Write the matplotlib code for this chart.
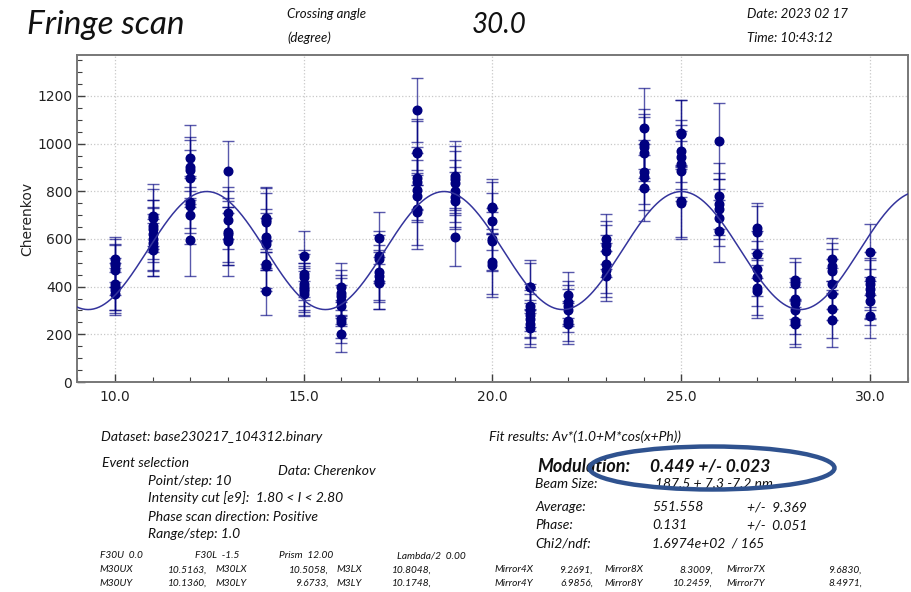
import numpy as np
import matplotlib
matplotlib.use("Agg")
import matplotlib.pyplot as plt
from matplotlib.patches import Ellipse
from matplotlib.ticker import MultipleLocator, FormatStrFormatter

# ---------------- data ----------------
phase_steps = list(range(10, 31))

cherenkov_values = [
    [515, 500, 490, 470, 410, 400, 385, 370],
    [695, 690, 655, 640, 620, 600, 585, 565, 555],
    [940, 900, 890, 855, 755, 740, 700, 595],
    [885, 710, 680, 630, 620, 600, 590],
    [690, 680, 670, 610, 590, 580, 495, 485, 380],
    [530, 455, 440, 410, 400, 390, 380, 370],
    [400, 375, 360, 340, 320, 265, 250, 200],
    [605, 530, 515, 460, 445, 425, 415],
    [1140, 965, 960, 855, 840, 805, 780, 725, 715],
    [865, 850, 835, 800, 775, 760, 610],
    [735, 730, 675, 600, 590, 505, 490],
    [400, 400, 320, 300, 280, 265, 245, 225],
    [365, 335, 320, 300, 255, 245],
    [600, 575, 550, 495, 470, 445],
    [1065, 1000, 985, 960, 880, 860, 815],
    [1045, 1040, 970, 945, 915, 885, 760, 750],
    [1010, 780, 745, 725, 690, 635],
    [645, 630, 535, 475, 440, 395, 380],
    [430, 410, 350, 330, 300, 255, 245],
    [515, 485, 465, 410, 370, 305, 260],
    [545, 430, 410, 390, 370, 340, 275],
]

cherenkov_errors = [
    [95, 100, 90, 105, 110, 100, 95, 90],
    [135, 120, 110, 125, 115, 130, 120, 120, 112],
    [140, 130, 125, 120, 110, 115, 120, 150],
    [125, 110, 120, 140, 115, 110, 145],
    [130, 135, 125, 115, 120, 110, 100, 105, 100],
    [105, 100, 95, 90, 100, 95, 100, 95],
    [100, 95, 90, 95, 85, 80, 85, 75],
    [110, 105, 100, 115, 110, 120, 110],
    [135, 140, 135, 130, 120, 125, 110, 150, 155],
    [145, 140, 135, 130, 125, 120, 122],
    [115, 110, 120, 130, 125, 135, 134],
    [110, 100, 90, 85, 90, 80, 85, 80],
    [95, 90, 85, 90, 85, 87],
    [105, 100, 110, 120, 115, 105],
    [170, 145, 140, 150, 135, 140, 139],
    [140, 145, 130, 135, 140, 125, 150, 150],
    [160, 140, 130, 125, 120, 130],
    [105, 110, 100, 115, 120, 115, 110],
    [90, 95, 85, 90, 100, 95, 100],
    [90, 100, 95, 105, 110, 120, 115],
    [120, 115, 110, 120, 105, 100, 90],
]

# fit results: Av*(1.0+M*cos(x+Ph))
fit_average = 551.558
fit_modulation = 0.449
fit_phase = 0.131

x_tick_values = [10, 15, 20, 25, 30]
y_tick_values = [0, 200, 400, 600, 800, 1000, 1200]

# ---------------- figure ----------------
W, H = 912, 592
fig = plt.figure(figsize=(W / 100, H / 100), dpi=100)
fig.patch.set_facecolor("white")

ax = fig.add_axes([77 / W, 1 - 382 / H, (908 - 77) / W, (382 - 55) / H])

navy = "#000080"
for step, vals, errs in zip(phase_steps, cherenkov_values, cherenkov_errors):
    xs = [step] * len(vals)
    ax.errorbar(xs, vals, yerr=errs, fmt="none", ecolor=navy, elinewidth=1.0,
                capsize=4.2, capthick=1.0, alpha=0.65, zorder=3)
    ax.plot(xs, vals, "o", color=navy, markersize=6.2, zorder=4)

xfit = np.linspace(9, 31, 600)
yfit = fit_average * (1.0 + fit_modulation * np.cos(xfit + fit_phase))
ax.plot(xfit, yfit, color="#34349c", lw=1.1, zorder=5)

ax.set_xlim(9, 31)
ax.set_ylim(0, 1372)
ax.set_xticks(x_tick_values)
ax.set_yticks(y_tick_values)
ax.xaxis.set_major_formatter(FormatStrFormatter("%.1f"))
ax.xaxis.set_minor_locator(MultipleLocator(1))
ax.yaxis.set_minor_locator(MultipleLocator(50))
ax.tick_params(which="both", direction="in", top=False, right=False,
               colors="#404040", labelcolor="#222222")
ax.tick_params(which="major", length=6, width=1.0, labelsize=10)
ax.tick_params(which="minor", length=3.5, width=0.8)
ax.tick_params(axis="x", pad=6)
for lab in ax.get_xticklabels() + ax.get_yticklabels():
    lab.set_family("DejaVu Sans")
ax.grid(True, which="major", color="#c8c8c8", linestyle=":", linewidth=0.9)
ax.set_axisbelow(True)
for sp in ax.spines.values():
    sp.set_color("#777777")
    sp.set_linewidth(1.4)
ax.set_ylabel("Cherenkov", fontsize=10, family="DejaVu Sans", color="#222222", labelpad=2)

# ---------------- text ----------------
def ftext(x, y, s, size=10, weight="normal", style="italic", ha="left", family="Lato", **kw):
    fig.text(x / W, 1 - y / H, s, fontsize=size, fontweight=weight, fontstyle=style,
             ha=ha, va="center", family=family, color="#111111", **kw)

ftext(27, 25, "Fringe scan", size=24)
ftext(287, 14, "Crossing angle", size=9.5)
ftext(287, 38, "(degree)", size=9.5)
ftext(472, 25, "30.0", size=20)
ftext(747, 14, "Date: 2023 02 17", size=9.5)
ftext(747, 38, "Time: 10:43:12", size=9.5)

ftext(101, 437, "Dataset: base230217_104312.binary", size=10)
ftext(102, 463, "Event selection", size=10)
ftext(278, 471, "Data: Cherenkov", size=10)
ftext(148, 481, "Point/step: 10", size=10)
ftext(148, 498, "Intensity cut [e9]:  1.80 < I < 2.80", size=10)
ftext(148, 517, "Phase scan direction: Positive", size=10)
ftext(148, 534, "Range/step: 1.0", size=10)

ftext(489, 437, "Fit results: Av*(1.0+M*cos(x+Ph))", size=10)
ftext(537, 466, "Modulation:", size=13, weight="bold")
ftext(650, 466, "0.449 +/- 0.023", size=12.5, weight="bold")
ftext(535, 484, "Beam Size:", size=10)
ftext(655, 484, "187.5 + 7.3 -7.2 nm", size=10)
ftext(535, 507, "Average:", size=10)
ftext(652, 507, "551.558", size=10)
ftext(747, 507, "+/-  9.369", size=10)
ftext(535, 525, "Phase:", size=10)
ftext(652, 525, "0.131", size=10)
ftext(747, 525, "+/-  0.051", size=10)
ftext(535, 544, "Chi2/ndf:", size=10)
ftext(652, 544, "1.6974e+02  / 165", size=10)

small = 7.3
row1 = [(100, "F30U  0.0"), (195, "F30L  -1.5"), (279, "Prism  12.00"), (397, "Lambda/2  0.00")]
for x, s in row1:
    ftext(x, 556, s, size=small)

labels_x = [100, 216, 337, 495, 605, 727]
values_r = [207, 329, 432, 593, 713, 862]
row2_labels = ["M30UX", "M30LX", "M3LX", "Mirror4X", "Mirror8X", "Mirror7X"]
row2_values = ["10.5163,", "10.5058,", "10.8048,", "9.2691,", "8.3009,", "9.6830,"]
row3_labels = ["M30UY", "M30LY", "M3LY", "Mirror4Y", "Mirror8Y", "Mirror7Y"]
row3_values = ["10.1360,", "9.6733,", "10.1748,", "6.9856,", "10.2459,", "8.4971,"]
for lx, vr, l2, v2, l3, v3 in zip(labels_x, values_r, row2_labels, row2_values,
                                  row3_labels, row3_values):
    ftext(lx, 570, l2, size=small)
    ftext(vr, 570, v2, size=small, ha="right")
    ftext(lx, 583, l3, size=small)
    ftext(vr, 583, v3, size=small, ha="right")

ell = Ellipse((712 / W, 1 - 468 / H), 245 / W, 43 / H, transform=fig.transFigure,
              fill=False, edgecolor="#2f528f", linewidth=3.2, zorder=10)
fig.add_artist(ell)

fig.savefig("out.png", dpi=100)
